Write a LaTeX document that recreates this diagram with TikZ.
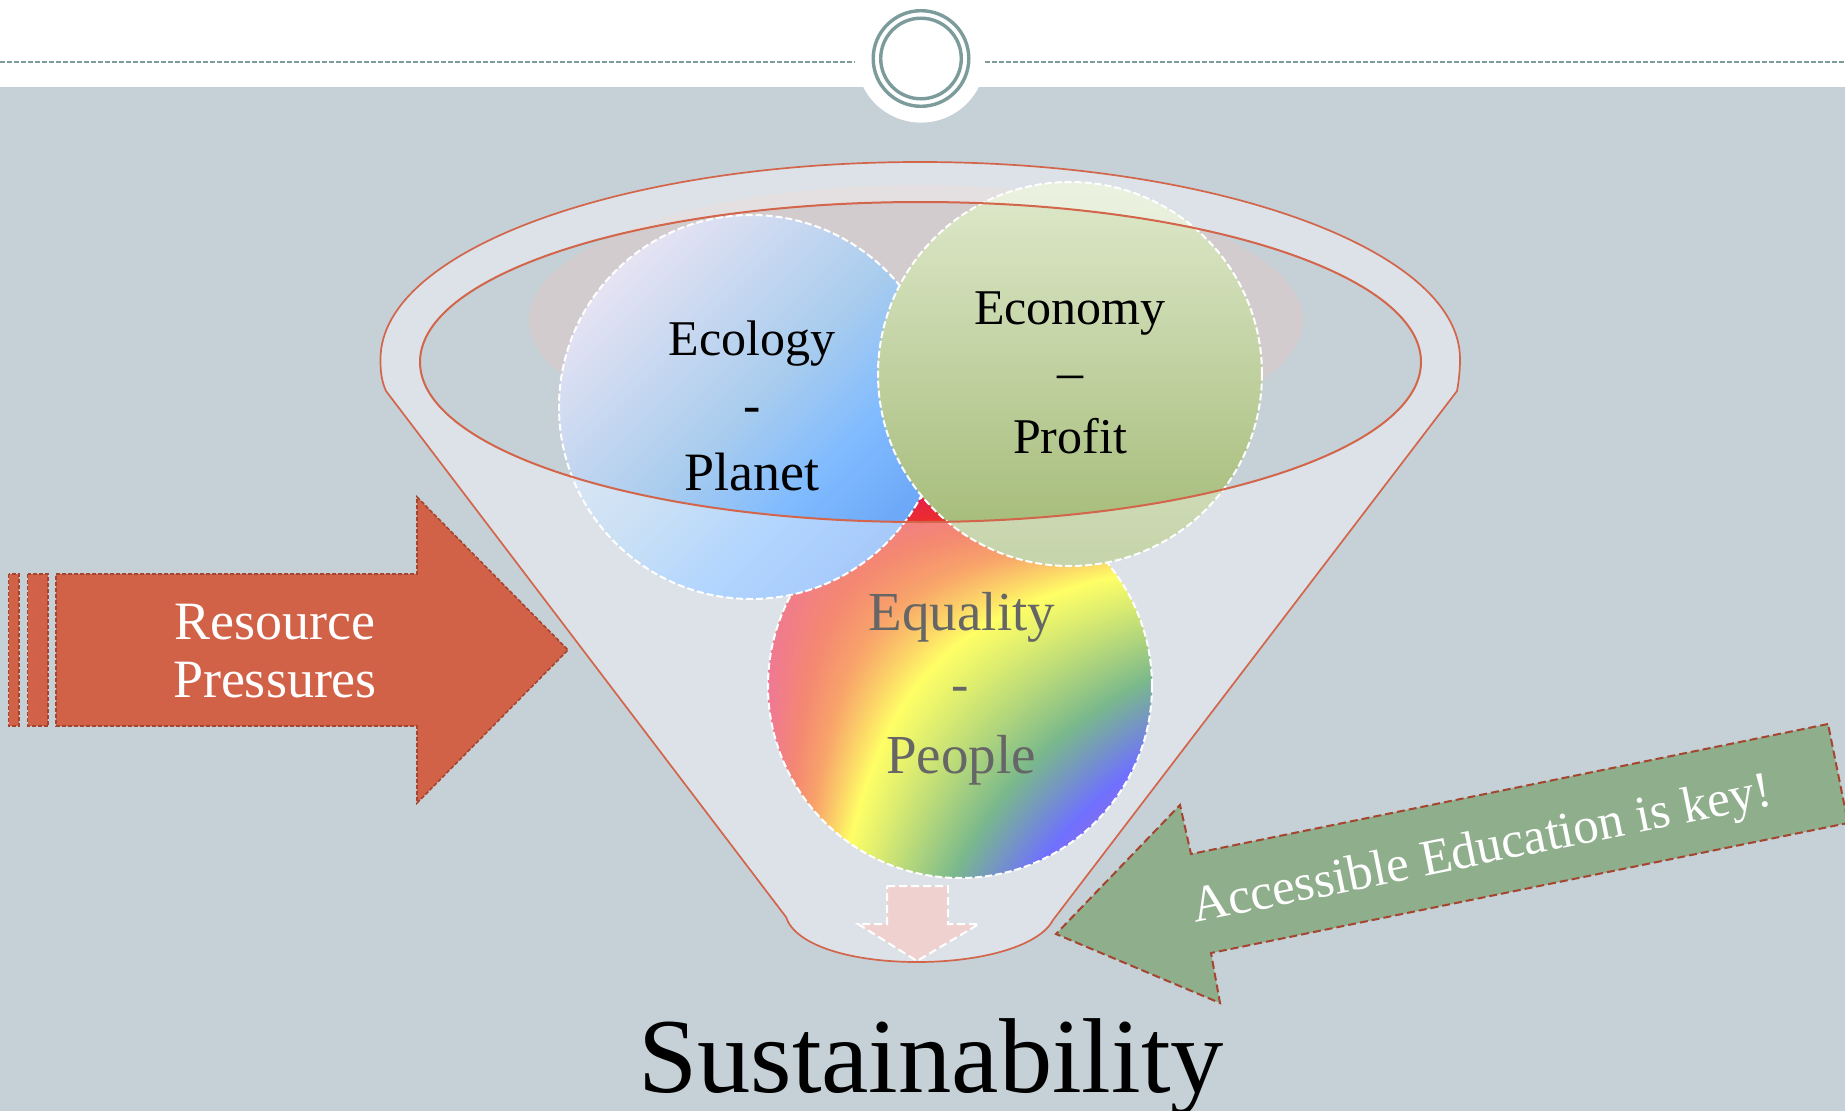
\documentclass[tikz,border=0pt]{standalone}
\usepackage{fontspec}
\setmainfont{Liberation Serif}
\definecolor{slidebg}{HTML}{C5D0D7}
\definecolor{teal}{HTML}{7C9C9C}
\definecolor{rim}{HTML}{D2654A}
\definecolor{pinkell}{HTML}{D2CCCF}
\definecolor{redfill}{HTML}{D16147}
\definecolor{arrowline}{HTML}{A5452F}
\definecolor{greenfill}{HTML}{8FAE8C}
\definecolor{downfill}{HTML}{EFD2CF}
\definecolor{ecoA}{HTML}{E6E3F3}
\definecolor{ecoB}{HTML}{A8CCEE}
\definecolor{ecoC}{HTML}{80BBFF}
\definecolor{ecoD}{HTML}{6BA6F8}
\definecolor{econTop}{HTML}{DFE9CC}
\definecolor{econBot}{HTML}{A0B872}
\definecolor{peopletext}{HTML}{666666}
\pgfdeclarehorizontalshading{ecoshade}{100bp}{color(0bp)=(ecoA); color(25bp)=(ecoA); color(50bp)=(ecoB); color(62.5bp)=(ecoC); color(75bp)=(ecoD); color(100bp)=(ecoD)}
\pgfdeclarefunctionalshading{rainbowshade}{\pgfpoint{0bp}{0bp}}{\pgfpoint{100bp}{100bp}}{}{
75 exch sub exch 25 sub mul 2500 div
dup 0.05 lt
{ 0 sub 0.05 div dup 0.03 mul 0.90 add exch dup 0.10 mul 0.12 add exch -0.22 mul 0.30 add }
{ dup 0.10 lt
 { 0.05 sub 0.05 div dup 0.03 mul 0.93 add exch dup 0.19 mul 0.22 add exch -0.05 mul 0.08 add }
 { dup 0.193 lt
  { 0.10 sub 0.093 div dup 0.04 mul 0.96 add exch dup 0.59 mul 0.41 add exch -0.03 mul 0.03 add }
  { dup 0.48 lt
   { 0.193 sub 0.287 div dup -0.87 mul 1 add exch dup -0.46 mul 1 add exch 0.25 mul 0 add }
   { dup 0.68 lt
    { 0.48 sub 0.20 div dup -0.07 mul 0.13 add exch dup -0.47 mul 0.54 add exch 0.75 mul 0.25 add }
    { 0.68 sub 0.07 div dup 0.14 mul 0.06 add exch dup -0.02 mul 0.07 add exch -0.10 mul 1 add }
    ifelse }
   ifelse }
  ifelse }
 ifelse }
ifelse
}
\def\funnelpath{(386,391) .. controls (381,380) and (380.5,370) .. (380.5,359)
  .. controls (380.5,250) and (622,162) .. (920,162)
  .. controls (1218,162) and (1460,250) .. (1460,359)
  .. controls (1460,370) and (1459,380) .. (1457,391)
  -- (1053,920) .. controls (1040,945) and (985,962) .. (917,962)
  .. controls (850,962) and (795,945) .. (786,917) -- cycle}
\def\rimellipse{(920.5,362) ellipse [x radius=500.5pt, y radius=160pt]}
\tikzset{
  sphereline/.style={draw=white,line width=2pt,dash pattern=on 7pt off 3pt},
  rimline/.style={draw=rim,line width=1.7pt},
  ringline/.style={draw=teal,line width=3.4pt},
  topdash/.style={draw=teal,line width=1.4pt,dash pattern=on 5pt off 2pt},
  redarrow/.style={fill=redfill,draw=arrowline,line width=1.6pt,dash pattern=on 4pt off 2pt},
  greenarrow/.style={fill=greenfill,draw=arrowline,line width=2pt,dash pattern=on 8pt off 4pt},
  downarrow/.style={fill=downfill,draw=white,line width=2pt,dash pattern=on 8pt off 4pt},
  label/.style={anchor=base,inner sep=0pt,font=\fontsize{52}{52}\selectfont},
  labelsm/.style={label,font=\fontsize{50}{50}\selectfont},
  labelmd/.style={label,font=\fontsize{54}{54}\selectfont},
  labellg/.style={label,font=\fontsize{55}{55}\selectfont},
}
\begin{document}
\begin{tikzpicture}[x=1pt,y=-1pt]
\useasboundingbox (0,0) rectangle (1845,1111);
\clip (0,0) rectangle (1845,1111);
% slide
\fill[white] (0,0) rectangle (1845,87);
\fill[slidebg] (0,87) rectangle (1845,1111);
\fill[white] (921,58) circle [radius=64.6pt];
\draw[topdash] (0,62) -- (855,62);
\draw[topdash] (985,62) -- (1845,62);
\draw[ringline] (921,58.5) circle [radius=47.8pt];
\draw[ringline] (921,58.5) circle [radius=40.3pt];
% pale ellipse behind the spheres
\fill[pinkell] (916,320) ellipse [x radius=387pt, y radius=135pt];
% spheres
\shade[shading=rainbowshade] (960,686) circle [radius=192pt];
\draw[sphereline] (960,686) circle [radius=192pt];
\shade[shading=ecoshade,shading angle=-45] (751,407) circle [radius=192pt];
\draw[sphereline] (751,407) circle [radius=192pt];
\shade[top color=econTop,bottom color=econBot] (1070,374) circle [radius=192pt];
\draw[sphereline] (1070,374) circle [radius=192pt];
% funnel veil with open mouth
\fill[white,fill opacity=0.4,even odd rule] \funnelpath \rimellipse;
\draw[rimline] \funnelpath;
\draw[rimline,line width=2pt] \rimellipse;
% small arrow in the funnel
\draw[downarrow] (887,886) -- (948,886) -- (948,924) -- (979,924) -- (917,961) -- (858,924) -- (887,924) -- cycle;
% red arrow
\draw[redarrow] (8.5,574) rectangle (19,726);
\draw[redarrow] (27.5,574) rectangle (48,726);
\draw[redarrow] (56,574) -- (417,574) -- (417,497) -- (568,650) -- (417,803) -- (417,726) -- (56,726) -- cycle;
% green arrow
\draw[greenarrow] (1828,724) -- (1191,854) -- (1180,805) -- (1056,934) -- (1220,1003) -- (1211,953) -- (1848,823) -- cycle;
% labels
\node[labelsm] (ecology) at (752,355) {Ecology};
\node[label] (ecodash) at (752,422) {-};
\node[labelmd] (planet) at (752,490) {Planet};
\node[labelsm] (economy) at (1070,324) {Economy};
\node[label] (econdash) at (1070,389) {–};
\node[labelsm] (profit) at (1070,453) {Profit};
\node[labellg,text=peopletext] (equality) at (962,630) {Equality};
\node[label,text=peopletext] (eqdash) at (960,701) {-};
\node[labellg,text=peopletext] (people) at (961,773) {People};
\node[labelmd,text=white] (resource) at (275,639) {Resource};
\node[labelmd,text=white] (pressures) at (275,697) {Pressures};
\node[label,text=white,rotate=11.5,font=\fontsize{51}{51}\selectfont] (education) at (1484.5,864) {Accessible Education is key!};
\node[label,font=\fontsize{106.5}{106.5}\selectfont] (sustainability) at (931,1092) {Sustainability};
\end{tikzpicture}
\end{document}
